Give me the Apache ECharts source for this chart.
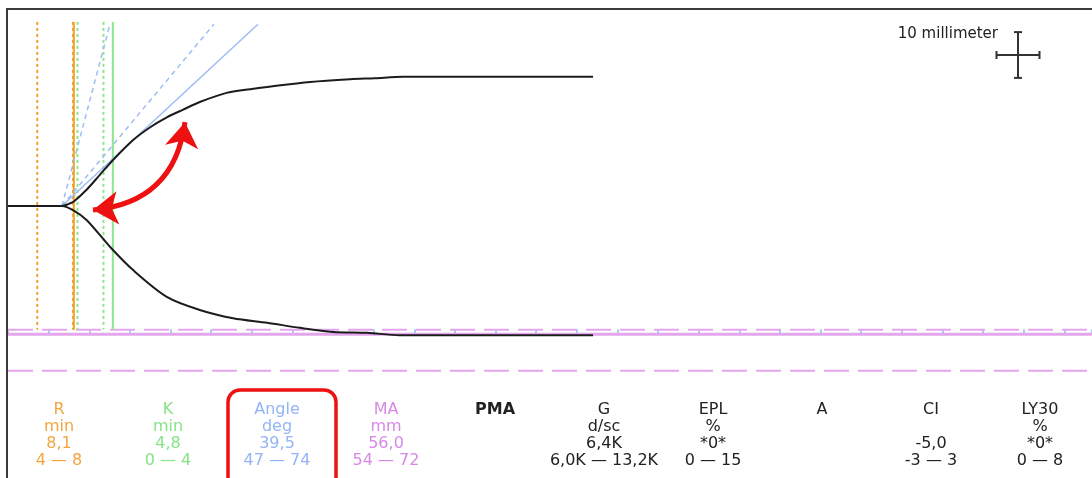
<!DOCTYPE html>
<html><head><meta charset="utf-8">
<script src="https://cdn.jsdelivr.net/npm/echarts@6/dist/echarts.min.js"></script>
<style>html,body{margin:0;padding:0;background:#fff}#chart{width:1092px;height:478px}</style>
</head><body><div id="chart"></div>
<script>
// Clot-strength trace: time in minutes, amplitude in millimetres from the centre line
const upperTime = [0, 6.64, 7.4, 8.1, 9.7, 11.3, 12.9, 15.4, 17.5, 19.6, 21.5, 23.6, 26.9, 29.8, 31.9, 37.2, 42.1, 45.1, 48.6, 72];
const upperAmp  = [0, 0, 0.4, 1.0, 3.6, 6.8, 10.0, 14.4, 17.2, 19.4, 21.0, 22.7, 24.7, 25.5, 26.0, 27.1, 27.7, 27.9, 28.2, 28.2];
const lowerTime = [0, 6.64, 8.1, 9.7, 12.6, 15.4, 19.6, 23.6, 27.7, 31.9, 35.9, 40.0, 44.2, 48.2, 72];
const lowerAmp  = [0, 0, -1.0, -3.1, -9.0, -14.0, -19.9, -22.7, -24.5, -25.5, -26.6, -27.5, -27.7, -28.2, -28.2];

// Angle tangent lines (start point, end times at the top amplitude)
const angleStart = [6.64, 0];
const angleTopAmp = 39.7;
const angleMeasuredEnd = 30.76;
const angleRangeEnds = [25.34, 12.55];

// Reaction (R) and kinetics (K) markers
const rTime = 8.1;
const kTime = 4.8;
const rRangeLines = [3.6, 8.0];
const kRangeLines = [8.55, 11.75];
const guideTop = 40.2;

// Maximum amplitude and its normal range
const maValue = 56.0;
const maRange = [54, 72];

// Result table
const paramNames  = ['R', 'K', 'Angle', 'MA', 'PMA', 'G', 'EPL', 'A', 'CI', 'LY30'];
const paramUnits  = ['min', 'min', 'deg', 'mm', '', 'd/sc', '%', '', '', '%'];
const paramValues = ['8,1', '4,8', '39,5', '56,0', '', '6,4K', '*0*', '', '-5,0', '*0*'];
const paramRanges = ['4 \u2014 8', '0 \u2014 4', '47 \u2014 74', '54 \u2014 72', '', '6,0K \u2014 13,2K', '0 \u2014 15', '', '-3 \u2014 3', '0 \u2014 8'];
const paramColors = ['#f4a540', '#86e486', '#93b4f6', '#d68ae6', '#222', '#222', '#222', '#222', '#222', '#222'];

// Curved arrow between the split point and the rising branch
const arrowFrom = [10.46, -0.87];
const arrowTo = [21.78, 18.3];

const W = 1092, H = 478;
const grid = {left: 8, right: 0, top: 10, bottom: 0};
const xMax = 133.4, yMin = -59.4, yMax = 42.8;
const gridH = H - grid.top - grid.bottom;
const pxPerMm = gridH / (yMax - yMin);
const maHalf = -maValue / 2;
const tickOffset = (yMax - maHalf) * pxPerMm - gridH;

const pairs = (ts, as) => ts.map((t, i) => [t, as[i]]);
const seg = (a, b) => [a, b];

const ORANGE = '#f3a02c', GREEN = '#8be78b', BLUE = '#9dbcf7', PINK = '#e3a6ec';

const series = [];
function addLine(data, color, width, type, z, smooth) {
  series.push({type: 'line', data, showSymbol: false, silent: true, z: z || 2, smooth: smooth || false,
    lineStyle: {color, width, type: type || 'solid'}});
}
// MA lines
maRange.forEach(v => addLine(seg([0, -v / 2], [xMax, -v / 2]), PINK, 2, [25, 9], 1));
addLine(seg([0, maHalf], [xMax, maHalf]), PINK, 3, 'solid', 1);
// R / K guides
rRangeLines.forEach(t => addLine(seg([t, guideTop], [t, -maRange[0] / 2]), ORANGE, 2, [3, 3]));
addLine(seg([rTime, guideTop], [rTime, -maRange[0] / 2]), ORANGE, 2);
kRangeLines.forEach(t => addLine(seg([t, guideTop], [t, -maRange[0] / 2]), GREEN, 2, [3, 3]));
addLine(seg([rTime + kTime, guideTop], [rTime + kTime, -maRange[0] / 2]), GREEN, 2);
// angle lines
addLine(seg(angleStart, [angleMeasuredEnd, angleTopAmp]), BLUE, 1.5);
angleRangeEnds.forEach(t => addLine(seg(angleStart, [t, angleTopAmp]), BLUE, 1.5, [5, 4]));
// trace
addLine(pairs(upperTime, upperAmp), '#1c1c1c', 2, 'solid', 5, 0.3);
addLine(pairs(lowerTime, lowerAmp), '#1c1c1c', 2, 'solid', 5, 0.3);
// curved double arrow
series.push({type: 'lines', coordinateSystem: 'cartesian2d', silent: true, z: 6,
  symbol: ['arrow', 'arrow'], symbolSize: 25,
  lineStyle: {color: '#ee1111', width: 5, opacity: 1, curveness: -0.4},
  data: [{coords: [arrowFrom, arrowTo]}]});

const graphic = [];
graphic.push({type: 'polyline', shape: {points: [[7, H], [7, 9], [W, 9]]},
  style: {stroke: '#3a3a3a', lineWidth: 2, fill: null}, z: 10});
// scale cross
const cx = 1018, cy = 55, half = 10 * pxPerMm / 2, hw = 21.5, cap = 4;
[[cx, cy - half, cx, cy + half], [cx - hw, cy, cx + hw, cy],
 [cx - cap, cy - half, cx + cap, cy - half], [cx - cap, cy + half, cx + cap, cy + half],
 [cx - hw, cy - cap, cx - hw, cy + cap], [cx + hw, cy - cap, cx + hw, cy + cap]].forEach(l =>
  graphic.push({type: 'line', shape: {x1: l[0], y1: l[1], x2: l[2], y2: l[3]},
    style: {stroke: '#333', lineWidth: 2}, z: 10}));
graphic.push({type: 'text', x: 998, y: 34, z: 10,
  style: {text: '10 millimeter', font: '15px "DejaVu Sans"', fill: '#222', align: 'right', verticalAlign: 'middle'}});
// result table
const colX0 = 59, colStep = 109, rowY0 = 410, rowStep = 17;
paramNames.forEach((name, i) => {
  [name, paramUnits[i], paramValues[i], paramRanges[i]].forEach((txt, r) => {
    if (!txt) return;
    graphic.push({type: 'text', x: colX0 + i * colStep, y: rowY0 + r * rowStep, z: 10,
      style: {text: txt, font: (i === 4 && r === 0 ? 'bold ' : '') + '16px "DejaVu Sans"',
        fill: paramColors[i], align: 'center', verticalAlign: 'middle'}});
  });
});
graphic.push({type: 'rect', shape: {x: 228, y: 390, width: 108, height: 110, r: 12}, z: 10,
  style: {stroke: '#ee1111', lineWidth: 3.5, fill: null}});

const chart = echarts.init(document.getElementById('chart'), null, {renderer: 'canvas'});
chart.setOption({
  animation: false,
  backgroundColor: '#fff',
  grid,
  xAxis: {type: 'value', min: 0, max: xMax, interval: 5, offset: tickOffset,
    axisLine: {show: false, onZero: false}, axisLabel: {show: false}, splitLine: {show: false},
    axisTick: {show: true, inside: true, length: 5, lineStyle: {color: '#7cc3ef', width: 1.5}}},
  yAxis: {type: 'value', min: yMin, max: yMax, show: false, splitLine: {show: false}},
  series,
  graphic
});
</script></body></html>
